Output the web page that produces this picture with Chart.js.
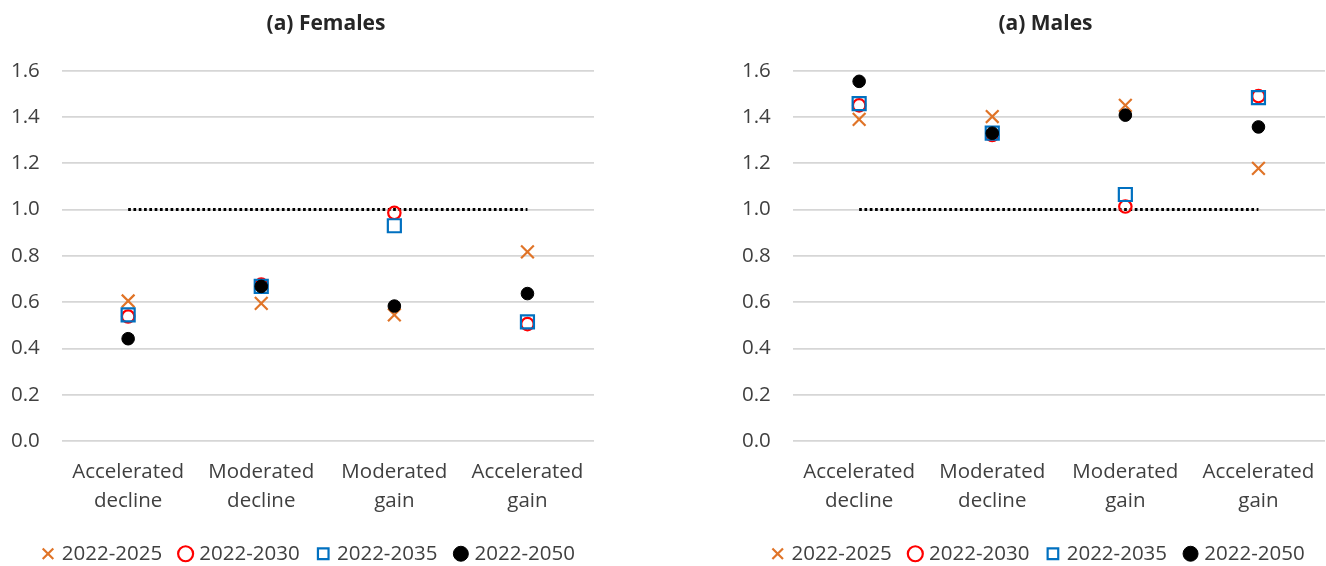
<!DOCTYPE html>
<html>
<head>
<meta charset="utf-8">
<script src="https://cdn.jsdelivr.net/npm/chart.js@4.4.1/dist/chart.umd.min.js"></script>
<style>
  html, body { margin: 0; padding: 0; background: #ffffff; overflow: hidden; width: 1326px; height: 566px; }
  canvas { position: absolute; top: 0; }
  #females { left: 0; }
  #males { left: 663px; }
</style>
</head>
<body>
<canvas id="females" width="700" height="574"></canvas>
<canvas id="males" width="700" height="574"></canvas>
<script>
// Scenario categories (two-line axis labels)
const categories = [
  ['Accelerated', 'decline'],
  ['Moderated', 'decline'],
  ['Moderated', 'gain'],
  ['Accelerated', 'gain']
];
const seriesNames = ['2022-2025', '2022-2030', '2022-2035', '2022-2050'];
const yTickLabels = ['0.0', '0.2', '0.4', '0.6', '0.8', '1.0', '1.2', '1.4', '1.6'];

// Females
const females2025 = [0.605, 0.595, 0.545, 0.817];
const females2030 = [0.538, 0.676, 0.986, 0.505];
const females2035 = [0.545, 0.668, 0.930, 0.515];
const females2050 = [0.442, 0.668, 0.583, 0.637];

// Males
const males2025 = [1.390, 1.402, 1.450, 1.178];
const males2030 = [1.450, 1.322, 1.013, 1.490];
const males2035 = [1.458, 1.330, 1.065, 1.484];
const males2050 = [1.554, 1.330, 1.408, 1.357];

// Parity reference line
const parityLine = [1, 1, 1, 1];

const FONT = '"Open Sans", "Noto Sans", sans-serif';
const TEXT = '#404040';

// Draws the bold panel heading at a fixed centre
const panelTitle = {
  id: 'panelTitle',
  afterDraw(chart, args, opts) {
    const ctx = chart.ctx;
    ctx.save();
    ctx.font = 'bold 21px ' + FONT;
    ctx.fillStyle = '#262626';
    ctx.textAlign = 'center';
    ctx.textBaseline = 'middle';
    ctx.fillText(opts.text, opts.x, opts.y);
    ctx.restore();
  }
};

// Slides the bottom legend sideways after layout
const legendShift = {
  id: 'legendShift',
  afterLayout(chart, args, opts) {
    if (chart.legend) {
      chart.legend.left += opts.dx;
      chart.legend.right += opts.dx;
    }
  }
};

function seriesDatasets(v2025, v2030, v2035, v2050) {
  return [
    { label: seriesNames[0], data: v2025, showLine: false, order: 4,
      pointStyle: 'crossRot', pointRadius: 9, pointHoverRadius: 9,
      borderColor: '#E07428', backgroundColor: '#E07428', pointBorderWidth: 2.2, borderWidth: 2.2 },
    { label: seriesNames[1], data: v2030, showLine: false, order: 3,
      pointStyle: 'circle', pointRadius: 6.2, pointHoverRadius: 6.2,
      borderColor: '#FF0000', backgroundColor: 'rgba(0,0,0,0)', pointBorderWidth: 2.2, borderWidth: 2.2 },
    { label: seriesNames[2], data: v2035, showLine: false, order: 2,
      pointStyle: 'rect', pointRadius: 9.2, pointHoverRadius: 9.2,
      borderColor: '#0070C0', backgroundColor: 'rgba(0,0,0,0)', pointBorderWidth: 2.2, borderWidth: 2.2 },
    { label: seriesNames[3], data: v2050, showLine: false, order: 1,
      pointStyle: 'circle', pointRadius: 6.3, pointHoverRadius: 6.3,
      borderColor: '#000000', backgroundColor: '#000000', pointBorderWidth: 1, borderWidth: 1 },
    { label: 'parity', data: parityLine, showLine: true, order: 5,
      borderColor: '#000000', borderWidth: 3, borderDash: [2.7, 2.6],
      pointRadius: 0, pointHoverRadius: 0, fill: false }
  ];
}

function makePanel(id, title, datasets, geom) {
  return new Chart(document.getElementById(id), {
    type: 'line',
    data: { labels: categories, datasets: datasets },
    options: {
      responsive: false,
      animation: false,
      layout: { padding: { left: 0, right: 0, top: 70.7, bottom: 0 } },
      scales: {
        x: {
          offset: true,
          grid: { display: false, drawTicks: false },
          border: { display: false },
          ticks: {
            color: TEXT, padding: 16.2, maxRotation: 0, autoSkip: false,
            font: { family: FONT, size: 20.5, lineHeight: 29 / 20.5 }
          },
          afterFit(s) { s.height = 82.5; }
        },
        y: {
          min: 0, max: 1.6,
          grid: { color: '#d6d6d6', lineWidth: 1.7, drawTicks: false },
          border: { display: false },
          ticks: {
            stepSize: 0.2, color: TEXT, padding: 21.8,
            font: { family: FONT, size: 20.5 },
            callback: (v) => yTickLabels[Math.round(v / 0.2)]
          },
          afterFit(s) { s.width = geom.plotLeft; }
        },
        spacer: {
          type: 'linear', position: 'right', display: true,
          grid: { display: false, drawTicks: false },
          border: { display: false },
          ticks: { display: false },
          afterFit(s) { s.width = geom.rightWidth; }
        }
      },
      plugins: {
        tooltip: { enabled: false },
        title: { display: false },
        legend: {
          display: true,
          position: 'bottom',
          align: 'start',
          labels: {
            usePointStyle: true,
            boxWidth: 7,
            boxHeight: 10.6,
            padding: 20,
            color: TEXT,
            font: { family: FONT, size: 20.5 },
            filter: (item) => item.datasetIndex < 4,
            sort: (a, b) => a.datasetIndex - b.datasetIndex
          }
        },
        legendShift: { dx: geom.legendDx },
        panelTitle: { text: title, x: geom.titleX, y: 24 }
      }
    },
    plugins: [panelTitle, legendShift]
  });
}

makePanel('females', '(a) Females',
  seriesDatasets(females2025, females2030, females2035, females2050),
  { plotLeft: 61.6, rightWidth: 106, titleX: 326, legendDx: 24.5 });

makePanel('males', '(a) Males',
  seriesDatasets(males2025, males2030, males2035, males2050),
  { plotLeft: 129.6, rightWidth: 38, titleX: 382.5, legendDx: 91.2 });
</script>
</body>
</html>
